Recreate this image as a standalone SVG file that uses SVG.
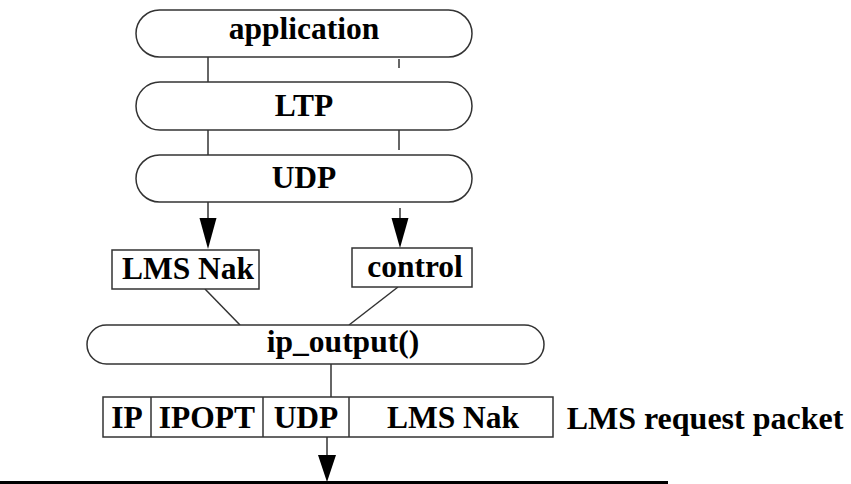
<svg xmlns="http://www.w3.org/2000/svg" width="851" height="484" viewBox="0 0 851 484">
  <style>
    .shape { fill: #fff; stroke: #333; stroke-width: 1.5; }
    .wire { fill: none; stroke: #333; stroke-width: 1.5; }
    .head { fill: #000; stroke: none; }
    text { font-family: "Liberation Serif", "Times New Roman", serif; font-weight: bold; font-size: 31.5px; fill: #000; text-anchor: middle; }
    .caption { font-size: 32px; }
  </style>

  <!-- connectors -->
  <g id="connectors">
    <line class="wire" x1="208" y1="57" x2="208" y2="82"/>
    <line class="wire" x1="399" y1="59" x2="399" y2="68"/>
    <line class="wire" x1="208" y1="130" x2="208" y2="155"/>
    <line class="wire" x1="399" y1="130" x2="399" y2="150"/>
    <line class="wire" x1="208" y1="202" x2="208" y2="219"/>
    <polygon class="head" points="199.5,218 216.5,218 208,249"/>
    <line class="wire" x1="400" y1="208" x2="400" y2="219"/>
    <polygon class="head" points="391.5,218 408.5,218 400,248"/>
    <line class="wire" x1="205" y1="289" x2="240" y2="325"/>
    <line class="wire" x1="398" y1="287" x2="349" y2="325"/>
    <line class="wire" x1="331" y1="364" x2="331" y2="397"/>
    <line class="wire" x1="327" y1="437" x2="327" y2="456"/>
    <polygon class="head" points="318,455 336,455 327,482"/>
  </g>

  <g id="application">
    <rect class="shape" x="136" y="10" width="336" height="47" rx="23.5"/>
    <text x="304" y="39">application</text>
  </g>
  <g id="ltp">
    <rect class="shape" x="136" y="82" width="336" height="48" rx="24"/>
    <text x="304" y="116">LTP</text>
  </g>
  <g id="udp">
    <rect class="shape" x="136" y="155" width="336" height="47" rx="23.5"/>
    <text x="304" y="188">UDP</text>
  </g>
  <g id="lms-nak">
    <rect class="shape" x="112" y="250" width="147" height="39"/>
    <text x="188" y="279">LMS Nak</text>
  </g>
  <g id="control">
    <rect class="shape" x="352" y="248" width="120" height="39"/>
    <text x="415" y="277">control</text>
  </g>
  <g id="ip-output">
    <rect class="shape" x="87" y="325" width="457" height="39" rx="19.5"/>
    <text x="343" y="352">ip_output()</text>
  </g>
  <g id="packet">
    <rect class="shape" x="103" y="397" width="450" height="40"/>
    <line class="wire" x1="151" y1="397" x2="151" y2="437"/>
    <line class="wire" x1="263" y1="397" x2="263" y2="437"/>
    <line class="wire" x1="349" y1="397" x2="349" y2="437"/>
    <text x="127" y="428">IP</text>
    <text x="207" y="428">IPOPT</text>
    <text x="306" y="428">UDP</text>
    <text x="453" y="428">LMS Nak</text>
    <text class="caption" x="705" y="429">LMS request packet</text>
  </g>

  <!-- network medium -->
  <rect x="0" y="481" width="668" height="4" fill="#000"/>
</svg>
